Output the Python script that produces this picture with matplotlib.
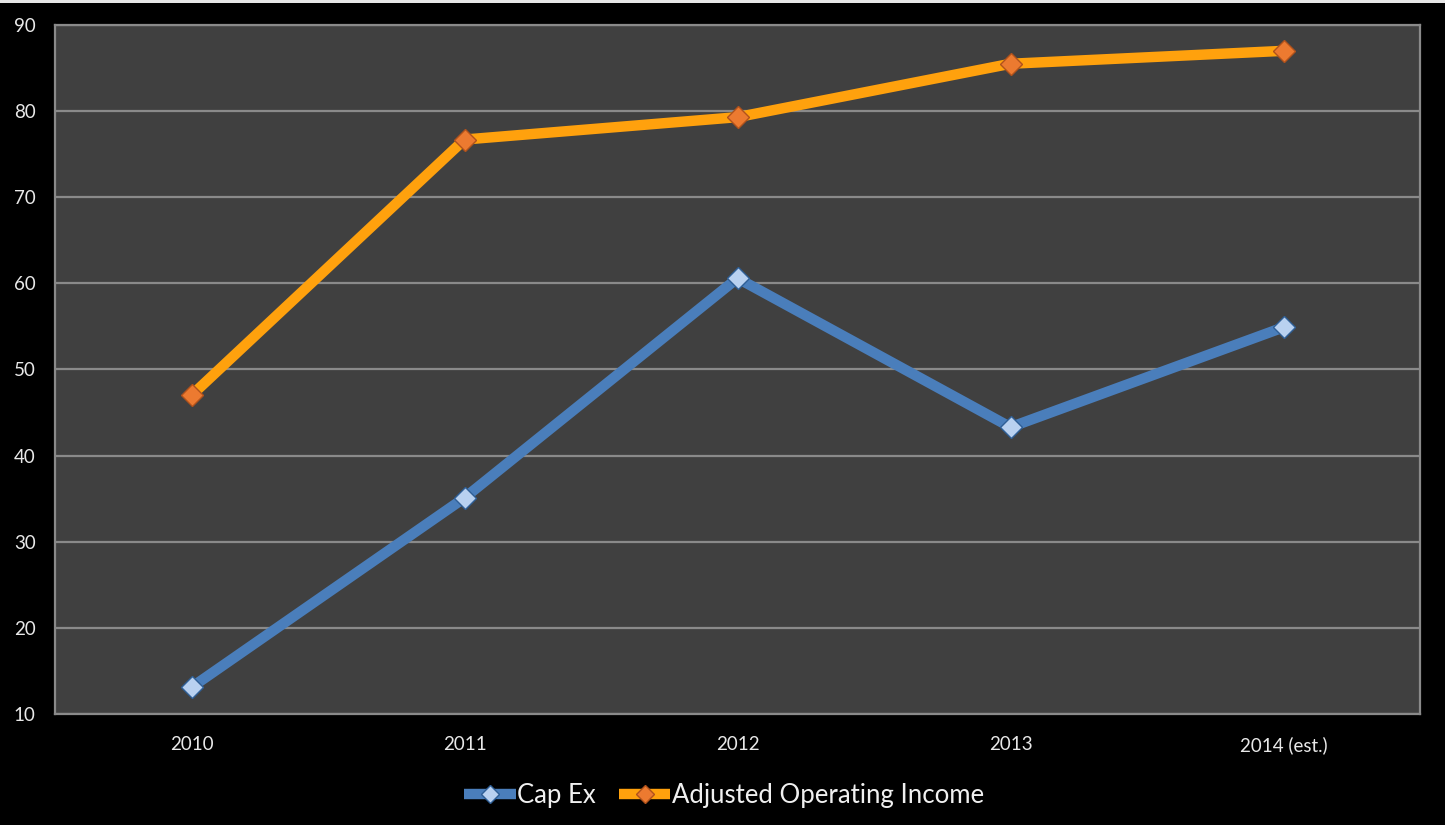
import matplotlib
matplotlib.use("Agg")
import matplotlib.pyplot as plt
from matplotlib.patches import Rectangle

years = ["2010", "2011", "2012", "2013", "2014 (est.)"]
cap_ex = [13.1, 35.1, 60.6, 43.3, 54.9]
adj_operating_income = [47.0, 76.7, 79.3, 85.5, 87.0]
y_ticks = [10, 20, 30, 40, 50, 60, 70, 80, 90]

plt.rcParams["font.family"] = ["Lato", "DejaVu Sans"]

W, H = 1445, 825
fig = plt.figure(figsize=(W / 100, H / 100), dpi=100, facecolor="black")
ax = fig.add_axes([55 / W, 1 - 714 / H, (1420 - 55) / W, (714 - 25) / H])
ax.set_facecolor("#404040")

# thin light strip along the top edge
fig.patches.append(Rectangle((0, 1 - 3 / H), 1, 3 / H, transform=fig.transFigure,
                             facecolor="#e6e6e6", edgecolor="none", zorder=0))

x = list(range(len(years)))
ax.plot(x, cap_ex, color="#4a7ebb", lw=7.5, solid_capstyle="butt",
        marker="D", markersize=11, markerfacecolor="#b9d1f0",
        markeredgecolor="#2f5f96", markeredgewidth=1.0, label="Cap Ex", zorder=3)
ax.plot(x, adj_operating_income, color="#ffa10d", lw=7.5, solid_capstyle="butt",
        marker="D", markersize=11, markerfacecolor="#ec7a30",
        markeredgecolor="#b0521c", markeredgewidth=1.0,
        label="Adjusted Operating Income", zorder=3)

ax.set_xlim(-0.5, len(years) - 0.5)
ax.set_ylim(10, 90)
ax.set_yticks(y_ticks)
ax.set_xticks(x)
ax.set_xticklabels(years)
ax.yaxis.grid(True, color="#8a8a8a", lw=1.6)
ax.set_axisbelow(True)
for side, sp in ax.spines.items():
    sp.set_color("#8a8a8a")
    sp.set_linewidth(1.6)
ax.tick_params(axis="both", length=0, colors="#e8e8e8", labelsize=13.5)
ax.tick_params(axis="y", pad=14)
ax.tick_params(axis="x", pad=16)

leg = fig.legend(loc="center", bbox_to_anchor=(724 / W, 1 - 795 / H), ncol=2,
                 frameon=False, fontsize=18.5, handlelength=2.0,
                 columnspacing=0.9, handletextpad=0.05, labelcolor="#f0f0f0",
                 markerscale=0.8)

fig.savefig("out.png", dpi=100, facecolor="black")
